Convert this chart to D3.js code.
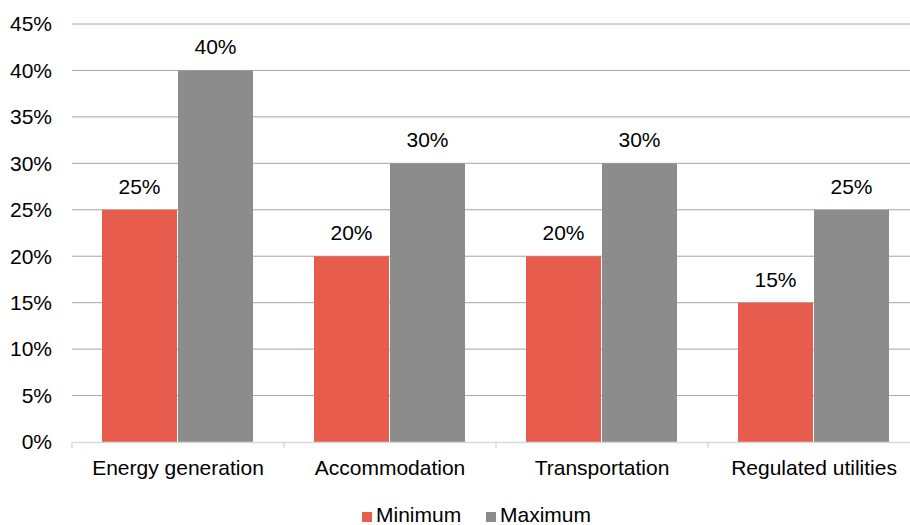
<!DOCTYPE html>
<html>
<head>
<meta charset="utf-8">
<script src="https://cdn.jsdelivr.net/npm/d3@7"></script>
<style>
  body { margin: 0; background: #fff; overflow: hidden; }
  text { font-family: "Liberation Sans", Arial, sans-serif; fill: #000; }
</style>
</head>
<body>
<svg width="910" height="525"></svg>
<script>
var categories = ["Energy generation", "Accommodation", "Transportation", "Regulated utilities"];
var minimum = [0.25, 0.20, 0.20, 0.15];
var maximum = [0.40, 0.30, 0.30, 0.25];
var seriesNames = ["Minimum", "Maximum"];
var yTicks = [0, 0.05, 0.10, 0.15, 0.20, 0.25, 0.30, 0.35, 0.40, 0.45];

var colors = { "Minimum": "#e85c4e", "Maximum": "#8c8c8c" };

var svg = d3.select("svg");
var plotLeft = 72, plotRight = 920, plotTop = 24, plotBottom = 442;
var fontSize = "21px";

var x = d3.scaleBand().domain(categories).range([plotLeft, plotRight]);
var inner = d3.scaleBand().domain(seriesNames).range([30, x.bandwidth() - 31]).paddingInner(0.013);
var y = d3.scaleLinear().domain([0, 0.45]).range([plotBottom, plotTop]);

var fmt = d3.format(".0%");

// gridlines
svg.append("g")
  .selectAll("line")
  .data(yTicks.slice(1))
  .enter().append("line")
  .attr("x1", plotLeft).attr("x2", plotRight)
  .attr("y1", function(d) { return y(d); })
  .attr("y2", function(d) { return y(d); })
  .attr("stroke", "#a6a6a6").attr("stroke-width", 1);

// y labels
svg.append("g")
  .selectAll("text")
  .data(yTicks)
  .enter().append("text")
  .attr("x", 52).attr("y", function(d) { return y(d); })
  .attr("dy", "0.35em")
  .attr("text-anchor", "end")
  .attr("font-size", fontSize)
  .text(fmt);

var rows = categories.map(function(c, i) {
  return { cat: c, vals: [{ key: "Minimum", v: minimum[i] }, { key: "Maximum", v: maximum[i] }] };
});

var groups = svg.append("g").selectAll("g")
  .data(rows)
  .enter().append("g")
  .attr("transform", function(d) { return "translate(" + x(d.cat) + ",0)"; });

groups.selectAll("rect")
  .data(function(d) { return d.vals; })
  .enter().append("rect")
  .attr("x", function(d) { return inner(d.key); })
  .attr("y", function(d) { return y(d.v); })
  .attr("width", inner.bandwidth())
  .attr("height", function(d) { return plotBottom - y(d.v); })
  .attr("fill", function(d) { return colors[d.key]; });

groups.selectAll("text")
  .data(function(d) { return d.vals; })
  .enter().append("text")
  .attr("x", function(d) { return inner(d.key) + inner.bandwidth() / 2; })
  .attr("y", function(d) { return y(d.v) - 16; })
  .attr("text-anchor", "middle")
  .attr("font-size", fontSize)
  .text(function(d) { return fmt(d.v); });

// x axis
var xAxis = svg.append("g")
  .attr("transform", "translate(0," + plotBottom + ")")
  .call(d3.axisBottom(x).tickSize(0).tickPadding(18));
xAxis.select(".domain").attr("stroke", "#d9d9d9").attr("stroke-width", 1.5);
xAxis.selectAll("text").attr("font-size", fontSize).attr("font-family", "Liberation Sans, Arial, sans-serif").attr("fill", "#000");

var tickPos = categories.map(function(c) { return x(c); }).concat([plotRight]);
svg.append("g").selectAll("line")
  .data(tickPos)
  .enter().append("line")
  .attr("x1", function(d) { return d; }).attr("x2", function(d) { return d; })
  .attr("y1", plotBottom).attr("y2", plotBottom + 6)
  .attr("stroke", "#d9d9d9").attr("stroke-width", 1.5);

// legend
var legend = svg.append("g").attr("transform", "translate(362,522)");
var lx = [0, 124];
seriesNames.forEach(function(s, i) {
  var g = legend.append("g").attr("transform", "translate(" + lx[i] + ",0)");
  g.append("rect").attr("x", 0).attr("y", -10).attr("width", 10).attr("height", 10).attr("fill", colors[s]);
  g.append("text").attr("x", 14).attr("y", 0).attr("font-size", fontSize).text(s);
});
</script>
</body>
</html>
